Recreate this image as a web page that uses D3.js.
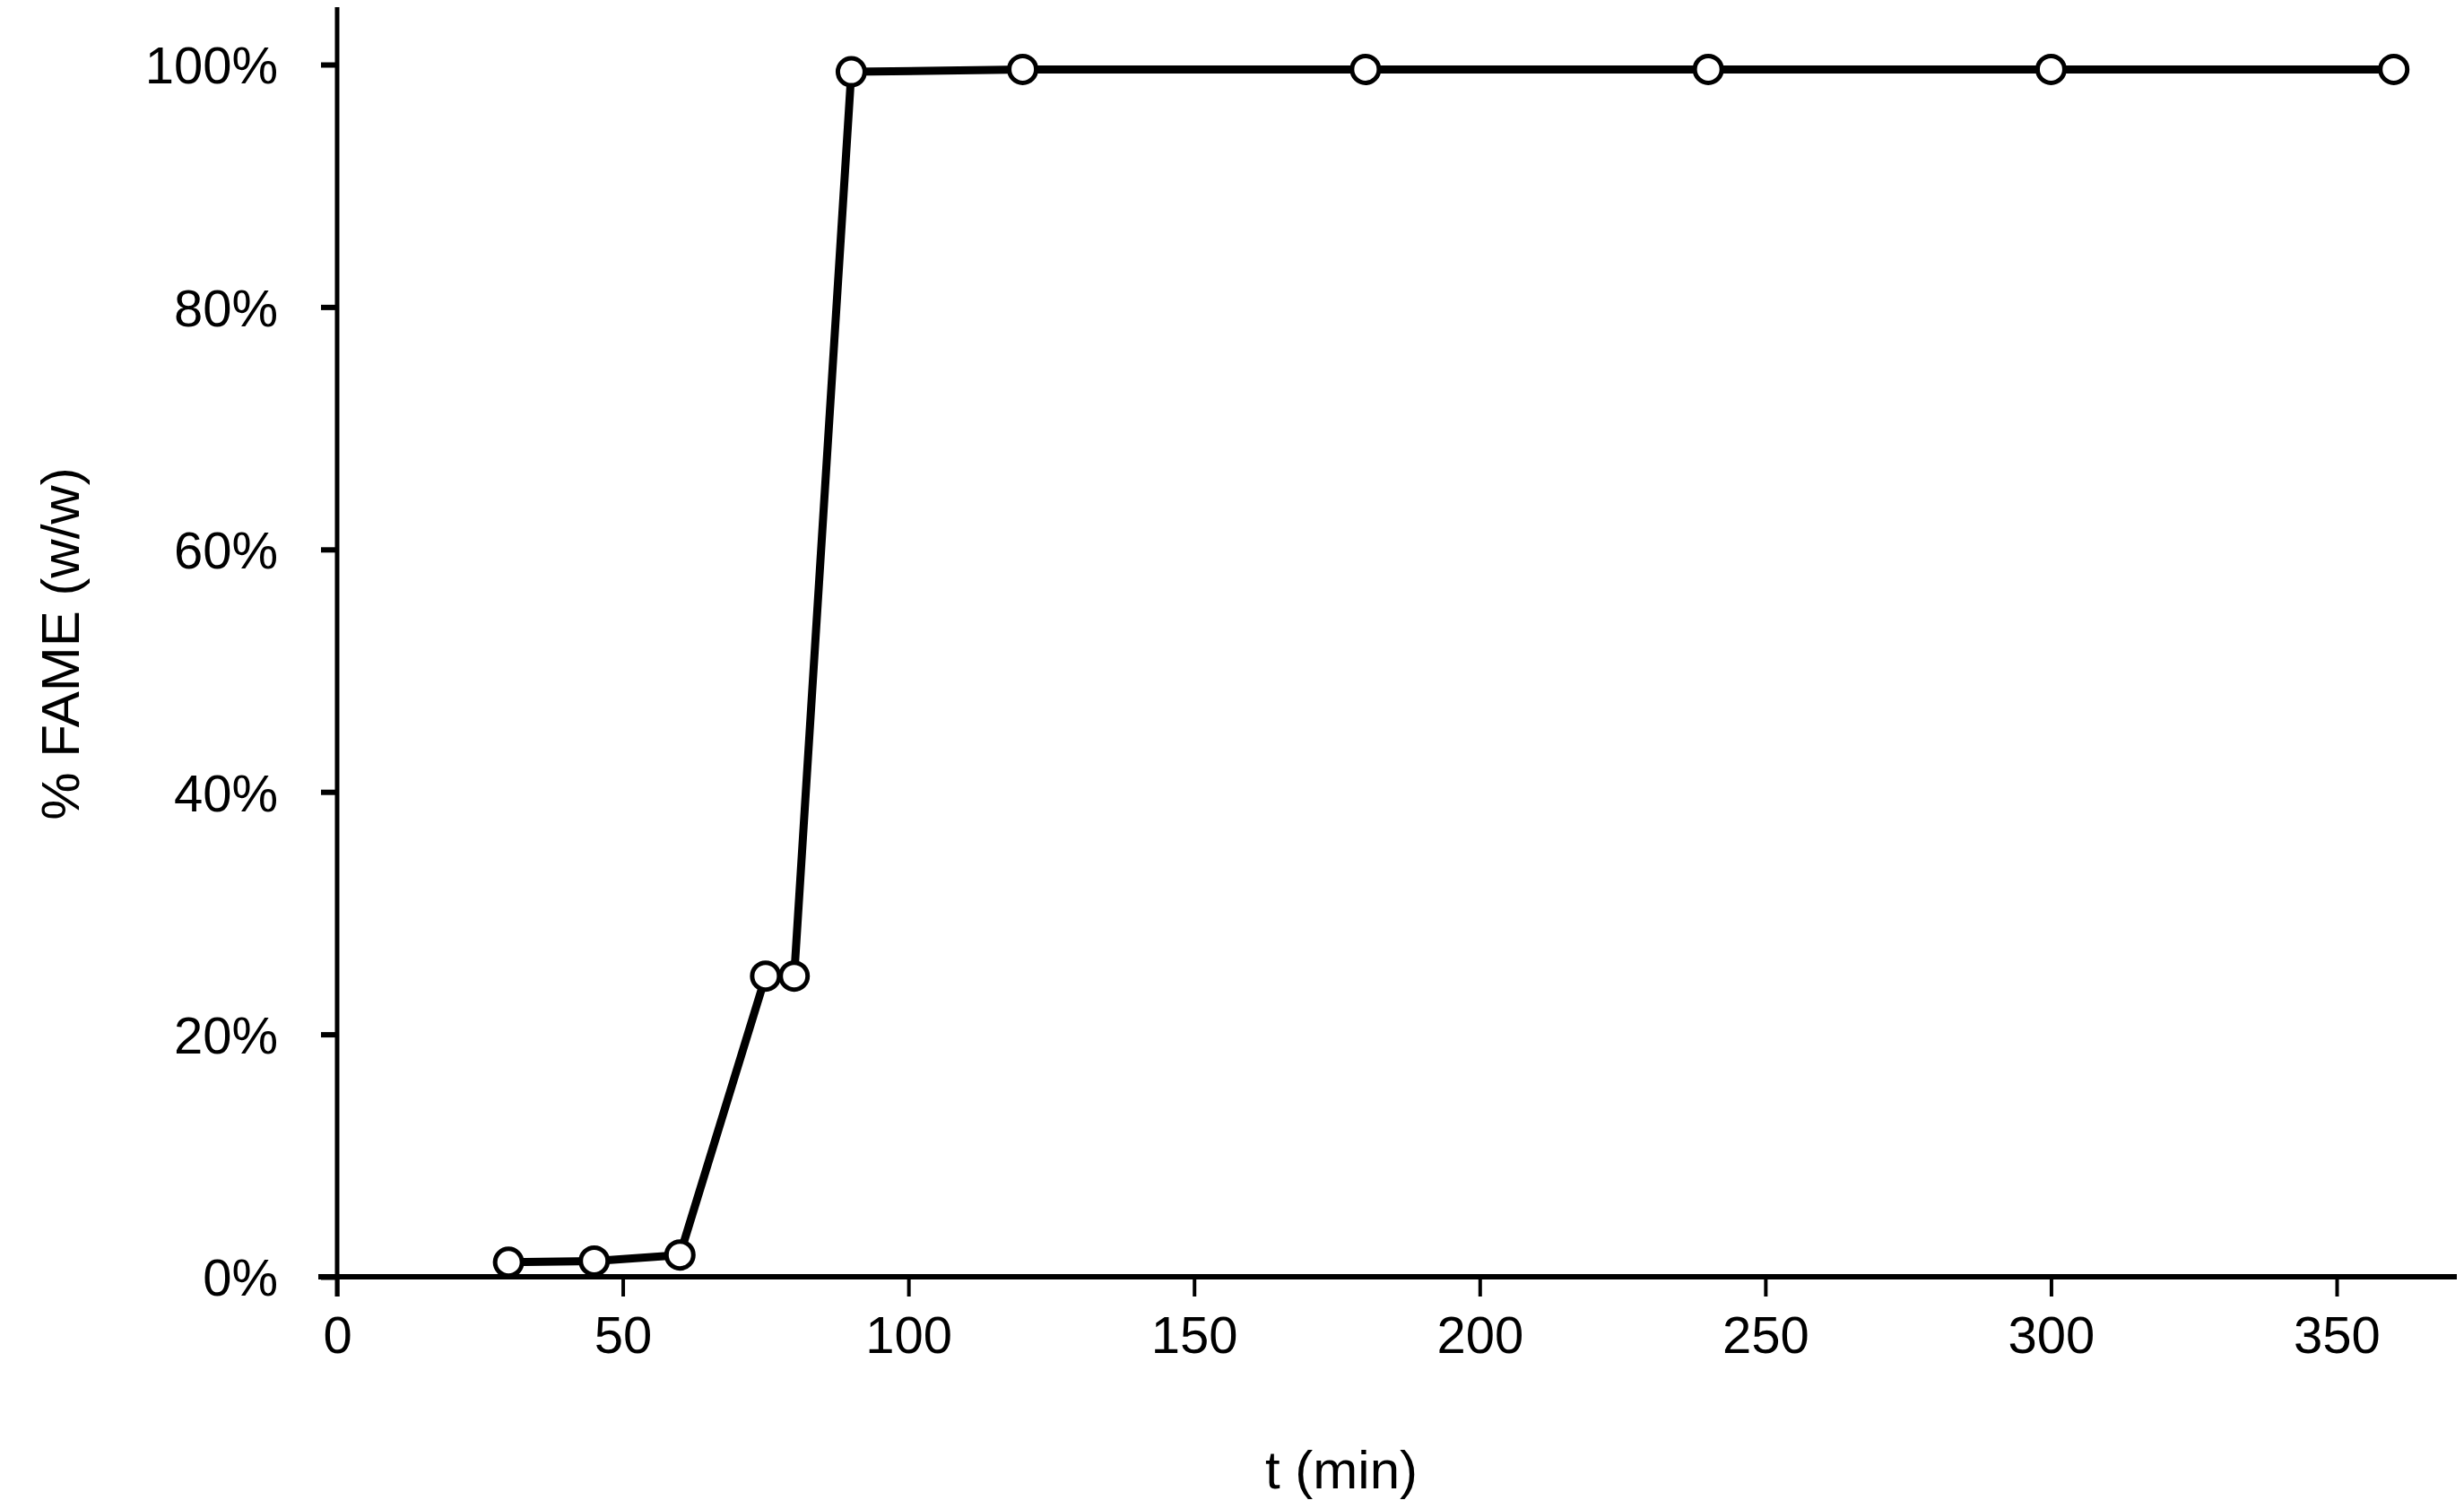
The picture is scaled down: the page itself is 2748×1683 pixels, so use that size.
<!DOCTYPE html>
<html><head><meta charset="utf-8">
<script src="https://cdn.jsdelivr.net/npm/d3@7"></script>
<style>body{margin:0;background:#fff}text{font-family:"Liberation Sans",Arial,sans-serif;fill:#000}</style>
</head><body>
<script>
// data
var times = [30, 45, 60, 75, 80, 90, 120, 180, 240, 300, 360];
var fame = [0.012, 0.013, 0.018, 0.248, 0.248, 0.994, 0.996, 0.996, 0.996, 0.996, 0.996];
var xTicks = [0, 50, 100, 150, 200, 250, 300, 350];
var yTicks = [0, 0.2, 0.4, 0.6, 0.8, 1.0];

var W = 2748, H = 1683;
var svg = d3.select("body").append("svg").attr("width", W).attr("height", H);
var x = d3.scaleLinear().domain([0, 350]).range([376, 2606]);
var y = d3.scaleLinear().domain([0, 1]).range([1424, 72]);

// axes
var xAxis = svg.append("g").attr("transform", "translate(0," + y(0) + ")")
	.call(d3.axisBottom(x).tickValues(xTicks).tickSize(22).tickPadding(22));
xAxis.select(".domain").remove();
xAxis.selectAll("line").attr("stroke-width", 4);
svg.append("line").attr("x1", 355).attr("x2", 2740).attr("y1", y(0)).attr("y2", y(0))
	.attr("stroke", "#000").attr("stroke-width", 6);

var yAxis = svg.append("g").attr("transform", "translate(" + x(0) + ",0)")
	.call(d3.axisLeft(y).tickValues(yTicks).tickFormat(d3.format(".0%")).tickSize(18).tickPadding(48));
yAxis.select(".domain").remove();
yAxis.selectAll("line").attr("stroke-width", 6);
svg.append("line").attr("x1", x(0)).attr("x2", x(0)).attr("y1", 8).attr("y2", y(0) + 22)
	.attr("stroke", "#000").attr("stroke-width", 5);
svg.selectAll(".tick text").style("font-size", "58px").style("font-family", "Liberation Sans, Arial, sans-serif");
yAxis.selectAll("text").attr("dy", "0.36em");
xAxis.selectAll("text").attr("dy", "0.71em");

// series
var pts = times.map(function(t, i){ return [t, fame[i]]; });
svg.append("path").datum(pts)
	.attr("fill", "none").attr("stroke", "#000").attr("stroke-width", 9).attr("stroke-linejoin", "round")
	.attr("d", d3.line().x(function(d){ return x(d[0]); }).y(function(d){ return y(d[1]); }));
svg.selectAll("circle.pt").data(pts).enter().append("circle")
	.attr("cx", function(d){ return x(d[0]); }).attr("cy", function(d){ return y(d[1]); })
	.attr("r", 15).attr("fill", "#fff").attr("stroke", "#000").attr("stroke-width", 5);

// labels
svg.append("text").attr("x", 1496).attr("y", 1660).attr("text-anchor", "middle")
	.style("font-size", "60px").text("t (min)");
svg.append("text").attr("transform", "translate(88,718) rotate(-90)").attr("text-anchor", "middle")
	.style("font-size", "60px").text("% FAME (w/w)");
</script>
</body></html>
